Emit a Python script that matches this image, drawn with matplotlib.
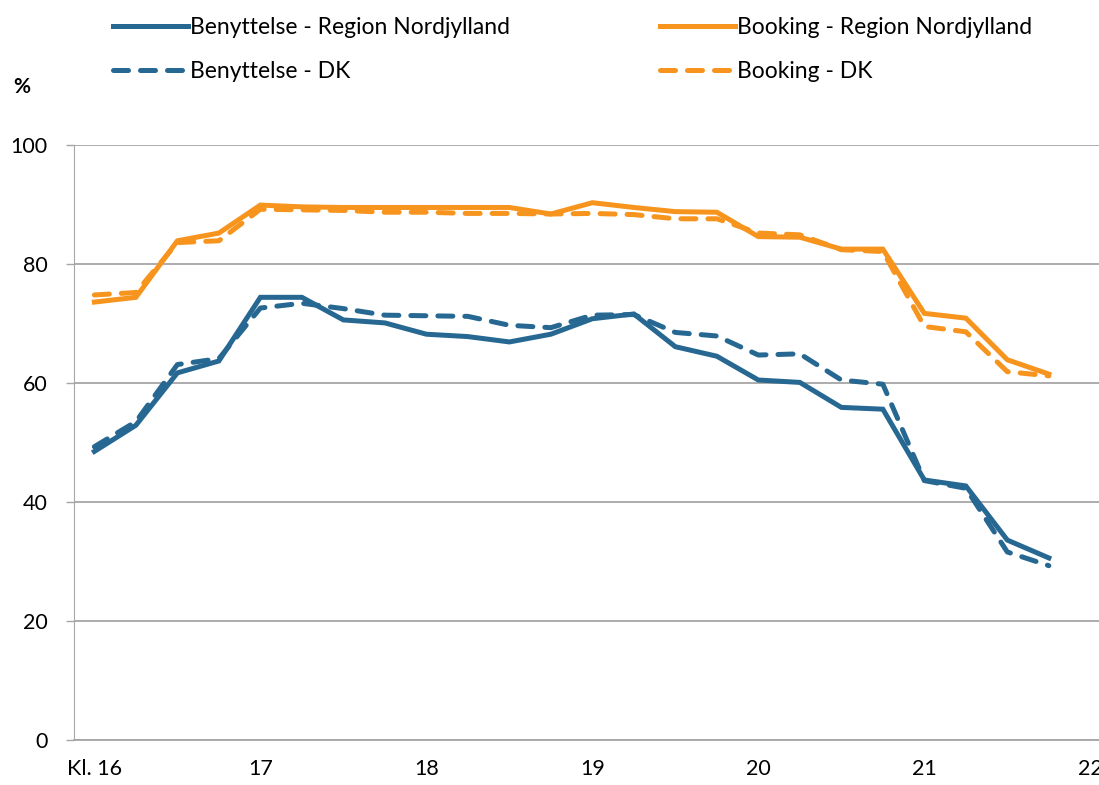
import matplotlib
matplotlib.use("Agg")
import matplotlib.pyplot as plt
from matplotlib.lines import Line2D

# Palette
C_BLUE   = "#276892"
C_ORANGE = "#F7941E"
C_GRID   = "#A6A6A6"
C_TEXT   = "#000000"

plt.rcParams["font.family"] = ["Lato", "DejaVu Sans"]

# quarter-hour slots 16:00 .. 21:45
times = ["16:00", "16:15", "16:30", "16:45",
         "17:00", "17:15", "17:30", "17:45",
         "18:00", "18:15", "18:30", "18:45",
         "19:00", "19:15", "19:30", "19:45",
         "20:00", "20:15", "20:30", "20:45",
         "21:00", "21:15", "21:30", "21:45"]
hour_labels = ["Kl. 16", "17", "18", "19", "20", "21", "22"]

benyt_nj = [48.5, 52.9, 61.7, 63.7, 74.4, 74.4, 70.6, 70.1, 68.2, 67.8, 66.9, 68.2,
            70.8, 71.6, 66.1, 64.5, 60.5, 60.1, 55.9, 55.6, 43.7, 42.7, 33.6, 30.6]
benyt_dk = [49.3, 53.5, 63.1, 64.1, 72.6, 73.4, 72.5, 71.4, 71.3, 71.2, 69.7, 69.3,
            71.4, 71.5, 68.5, 67.9, 64.7, 64.9, 60.5, 59.8, 43.6, 42.3, 31.6, 29.3]
book_nj  = [73.6, 74.4, 83.9, 85.2, 89.9, 89.6, 89.5, 89.5, 89.5, 89.5, 89.5, 88.4,
            90.3, 89.5, 88.8, 88.7, 84.6, 84.5, 82.5, 82.5, 71.7, 70.9, 63.9, 61.5]
book_dk  = [74.8, 75.2, 83.6, 83.9, 89.2, 89.1, 89.0, 88.7, 88.7, 88.5, 88.5, 88.4,
            88.5, 88.3, 87.6, 87.6, 85.2, 84.9, 82.4, 82.1, 69.5, 68.6, 61.9, 61.2]

fig = plt.figure(figsize=(10.99, 7.85), dpi=100)
ax = fig.add_axes([0.067, 0.0573, 0.944, 0.758])

x = list(range(len(times)))
lw = 3.6
dash = dict(linestyle=(0, (3, 2.4)), dash_capstyle="round")

ax.plot(x, benyt_nj, color=C_BLUE, lw=lw, solid_joinstyle="miter", zorder=3)
ax.plot(x, book_nj, color=C_ORANGE, lw=lw, solid_joinstyle="miter", zorder=3)
ax.plot(x, benyt_dk, color=C_BLUE, lw=lw, zorder=4, **dash)
ax.plot(x, book_dk, color=C_ORANGE, lw=lw, zorder=4, **dash)

ax.set_xlim(-0.5, 24.5)
ax.set_ylim(0, 100)
ax.set_yticks(range(0, 101, 20))
ax.set_xticks(range(0, 25, 4))
ax.set_xticklabels(hour_labels)
ax.tick_params(axis="x", length=0, pad=14, labelsize=15.5, colors=C_TEXT)
ax.tick_params(axis="y", length=5.8, width=1, color=C_GRID, pad=13,
               labelsize=15.5, labelcolor=C_TEXT)
ax.grid(axis="y", color=C_GRID, linewidth=1.3, zorder=0)
ax.set_axisbelow(True)

for side in ("top", "right"):
    ax.spines[side].set_visible(False)
ax.spines["left"].set_color(C_GRID)
ax.spines["bottom"].set_color(C_GRID)
ax.spines["bottom"].set_linewidth(1.3)

fig.text(13 / 1099, 1 - 87 / 785, "%", fontsize=15, fontweight="bold",
         ha="left", va="center", color=C_TEXT)

# legend: two single-column blocks
def _handle(color, dashed):
    if dashed:
        return Line2D([], [], color=color, lw=lw, **dash)
    return Line2D([], [], color=color, lw=lw)

leg_kw = dict(loc="center left", frameon=False, borderpad=0, borderaxespad=0,
              fontsize=16.5, handlelength=3.27, handletextpad=0.1,
              labelspacing=0.97)
fig.legend([_handle(C_BLUE, False), _handle(C_BLUE, True)],
           ["Benyttelse - Region Nordjylland", "Benyttelse - DK"],
           bbox_to_anchor=(113 / 1099, 1 - 49.5 / 785), **leg_kw)
fig.legend([_handle(C_ORANGE, False), _handle(C_ORANGE, True)],
           ["Booking - Region Nordjylland", "Booking - DK"],
           bbox_to_anchor=(660 / 1099, 1 - 49.5 / 785), **leg_kw)

fig.savefig("out.png", dpi=100, facecolor="white")
